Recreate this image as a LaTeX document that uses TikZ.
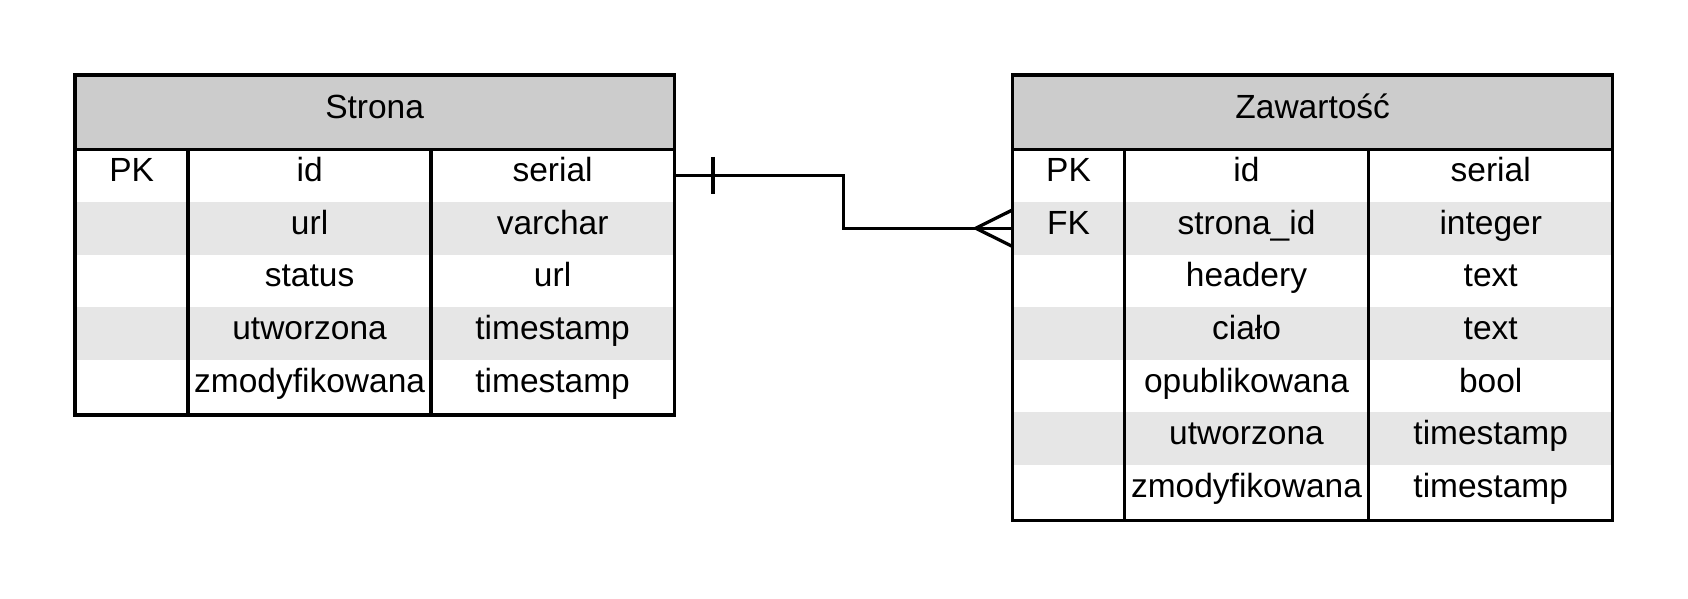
\documentclass[tikz,border=0pt]{standalone}
\usepackage{fontspec}
\setmainfont{Liberation Sans}
\definecolor{hdr}{HTML}{CCCCCC}
\definecolor{alt}{HTML}{E6E6E6}
\begin{document}
\begin{tikzpicture}[x=1pt,y=-1pt,
  font=\fontsize{33.5}{40}\selectfont,
  cell/.style={inner sep=0pt, minimum height=52.6pt, text height=21pt, text depth=9pt, anchor=center},
  kcol/.style={cell, minimum width=113pt},
  ncol/.style={cell, minimum width=243pt},
  tcol/.style={cell, minimum width=243pt},
  hcell/.style={cell, minimum width=599pt, minimum height=74pt},
  border/.style={line width=3.5pt},
  conn/.style={line width=3.3pt, line join=miter}]
\useasboundingbox (0,0) rectangle (1688,598);

% ---------- Strona ----------
\fill[hdr] (75,75) rectangle (674.3,149.3);
\fill[alt] (75,{149.3+52.6*1}) rectangle (674.3,{149.3+52.6*2});
\fill[alt] (75,{149.3+52.6*3}) rectangle (674.3,{149.3+52.6*4});
\node[hcell] (s-h) at (374.6,112.2) {Strona};
\foreach \k/\n/\t [count=\i from 0] in {PK/id/serial, /url/varchar, /status/url, /utworzona/timestamp, /zmodyfikowana/timestamp}{
  \node[kcol] (s-k\i) at (131.6,{149.3+52.6*(\i+0.5)}) {\k};
  \node[ncol] (s-n\i) at (309.6,{149.3+52.6*(\i+0.5)}) {\n};
  \node[tcol] (s-t\i) at (552.6,{149.3+52.6*(\i+0.5)}) {\t};
}
\draw[border] (75,149.3) -- (674.3,149.3);
\draw[border] (188.2,149.3) -- (188.2,415);
\draw[border] (431,149.3) -- (431,415);
\draw[border] (75,75) rectangle (674.3,415);

% ---------- Zawartość ----------
\fill[hdr] (1012.7,75) rectangle (1612.7,149.3);
\foreach \r in {1,3,5}{
  \fill[alt] (1012.7,{149.3+52.6*\r}) rectangle (1612.7,{149.3+52.6*(\r+1)});
}
\node[hcell] (z-h) at (1312.7,112.2) {Zawartość};
\foreach \k/\n/\t [count=\i from 0] in {PK/id/serial, FK/strona\_id/integer, /headery/text, /ciało/text, /opublikowana/bool, /utworzona/timestamp, /zmodyfikowana/timestamp}{
  \node[kcol, minimum width=111.6pt] (z-k\i) at (1068.5,{149.3+52.6*(\i+0.5)}) {\k};
  \node[ncol, minimum width=244.4pt] (z-n\i) at (1246.5,{149.3+52.6*(\i+0.5)}) {\n};
  \node[tcol, minimum width=244pt] (z-t\i) at (1490.7,{149.3+52.6*(\i+0.5)}) {\t};
}
\draw[border] (1012.7,149.3) -- (1612.7,149.3);
\draw[border] (1124.3,149.3) -- (1124.3,520.7);
\draw[border] (1368.7,149.3) -- (1368.7,520.7);
\draw[border] (1012.7,75) rectangle (1612.7,520.7);

% ---------- relation ----------
\coordinate (jx) at (843.7,200);
\draw[conn] (s-t0.east) -| (jx) |- (z-k1.west);
\draw[conn] ([shift={(38.7,-18.7)}]s-t0.east) -- ([shift={(38.7,18.7)}]s-t0.east);
\draw[conn] ([shift={(0,-18.3)}]z-k1.west) -- ([shift={(-36.7,0)}]z-k1.west) -- ([shift={(0,18.3)}]z-k1.west);
\end{tikzpicture}
\end{document}
